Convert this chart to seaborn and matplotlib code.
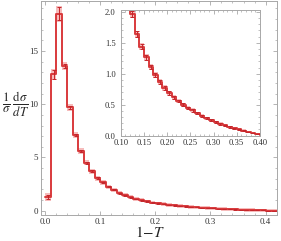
import numpy as np
import matplotlib
matplotlib.use('Agg')
import matplotlib.pyplot as plt
import seaborn as sns
from matplotlib.ticker import MultipleLocator, FormatStrFormatter

# bin edges of 1-T and the normalised distribution
bin_lo = [0.00, 0.01, 0.02, 0.03, 0.04, 0.05, 0.06, 0.07, 0.08, 0.09,
          0.10, 0.11, 0.12, 0.13, 0.14, 0.15, 0.16, 0.17, 0.18, 0.19,
          0.20, 0.21, 0.22, 0.23, 0.24, 0.25, 0.26, 0.27, 0.28, 0.29,
          0.30, 0.31, 0.32, 0.33, 0.34, 0.35, 0.36, 0.37, 0.38, 0.39,
          0.40, 0.41]
dist = [1.3, 12.8, 18.5, 13.6, 9.7, 7.1, 5.6, 4.5, 3.7, 3.05,
        2.65, 2.25, 1.97, 1.64, 1.44, 1.27, 1.11, 0.98, 0.87, 0.77,
        0.69, 0.62, 0.56, 0.50, 0.45, 0.41, 0.36, 0.32, 0.28, 0.25,
        0.22, 0.19, 0.17, 0.14, 0.12, 0.10, 0.08, 0.06, 0.045, 0.03,
        0.015, 0.008]
err = [0.2, 0.4, 0.6, 0.2, 0.15, 0.12, 0.1, 0.09, 0.08, 0.07,
       0.06, 0.05, 0.05, 0.045, 0.04, 0.04, 0.035, 0.03, 0.03, 0.03,
       0.025, 0.025, 0.02, 0.02, 0.02, 0.02, 0.015, 0.015, 0.015, 0.015,
       0.012, 0.012, 0.01, 0.01, 0.01, 0.008, 0.008, 0.006, 0.006, 0.005,
       0.004, 0.003]
width = 0.01

sns.set_style('ticks')
plt.rcParams['font.family'] = ['Liberation Serif', 'DejaVu Serif']
plt.rcParams['mathtext.fontset'] = 'stix'

line_c = '#d93a3c'
band_c = '#f5b0b0'
err_c = '#c4262b'
frame_c = '#a8a8a8'

lo = np.array(bin_lo)
y = np.array(dist)
e = np.array(err)
edges = np.append(lo, lo[-1] + width)
ys = np.append(y, y[-1])
es = np.append(e, e[-1])
mid = lo + width / 2


def draw(ax, pad):
    ax.fill_between(edges, ys - es - pad, ys + es + pad, step='post',
                    color=band_c, lw=0, alpha=0.85)
    sns.lineplot(x=edges, y=ys, drawstyle='steps-post', color=line_c, lw=1.4, ax=ax)
    ax.errorbar(mid, y, yerr=e, fmt='none', ecolor=err_c, elinewidth=0.7,
                capsize=1.5, capthick=0.7)
    ax.tick_params(which='both', direction='in', top=True, right=True,
                   color=frame_c, labelsize=6.5, pad=2, labelcolor='#333333')
    ax.tick_params(which='major', length=3, width=0.6)
    ax.tick_params(which='minor', length=1.5, width=0.5)
    for s in ax.spines.values():
        s.set_color(frame_c)
        s.set_linewidth(0.7)
    ax.set_xlabel('')
    ax.set_ylabel('')


fig = plt.figure(figsize=(2.81, 2.41), dpi=100)
ax = fig.add_axes([0.145, 0.108, 0.841, 0.888])
draw(ax, 0.15)
ax.set_xlim(-0.0085, 0.421)
ax.set_ylim(-0.4, 19.7)
ax.xaxis.set_minor_locator(MultipleLocator(0.02))
ax.yaxis.set_major_locator(MultipleLocator(5))
ax.yaxis.set_minor_locator(MultipleLocator(1))
ax.set_xticks([0.0, 0.1, 0.2, 0.3, 0.4], ['0.0', '0.1', '0.2', '0.3', '0.4'])
fig.text(0.055, 0.565, r'$\frac{1}{\sigma}\,\frac{\mathrm{d}\sigma}{dT}$',
         fontsize=13, ha='center', va='center')
fig.text(0.535, 0.035, r'$1\!-\!T$', fontsize=11, ha='center', va='center')

ins = fig.add_axes([0.4295, 0.437, 0.4955, 0.5215])
draw(ins, 0.012)
ins.set_xlim(0.1, 0.4)
ins.set_ylim(0, 2.03)
ins.xaxis.set_major_locator(MultipleLocator(0.05))
ins.xaxis.set_minor_locator(MultipleLocator(0.01))
ins.yaxis.set_major_locator(MultipleLocator(0.5))
ins.yaxis.set_minor_locator(MultipleLocator(0.1))
ins.xaxis.set_major_formatter(FormatStrFormatter('%.2f'))
ins.yaxis.set_major_formatter(FormatStrFormatter('%.1f'))
ins.tick_params(labelsize=6.2)
ins.tick_params(axis='y', pad=3.5)
ins.tick_params(axis='x', pad=2.5)
ins.set_facecolor('white')

fig.savefig('out.png', dpi=100)
